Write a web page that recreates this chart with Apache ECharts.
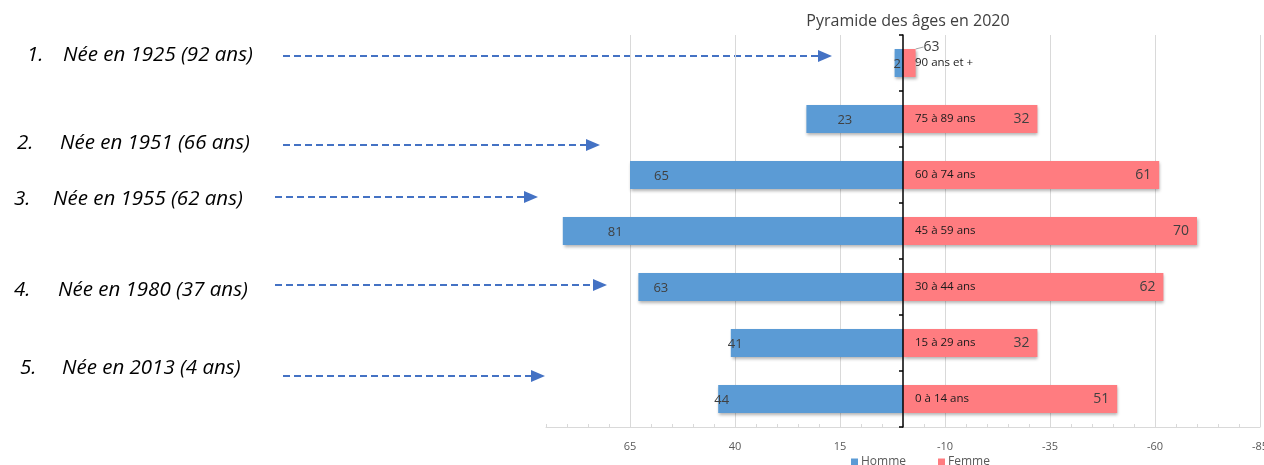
<!DOCTYPE html>
<html><head><meta charset="utf-8">
<script src="https://cdn.jsdelivr.net/npm/echarts@6/dist/echarts.min.js"></script>
<style>html,body{margin:0;padding:0;background:#fff}#c{width:1264px;height:465px}</style>
</head><body><div id="c"></div>
<script>
// ---- data ----
const categories = ['90 ans et +', '75 à 89 ans', '60 à 74 ans', '45 à 59 ans', '30 à 44 ans', '15 à 29 ans', '0 à 14 ans'];
const homme = [2, 23, 65, 81, 63, 41, 44];
const femme = [-3, -32, -61, -70, -62, -32, -51];
const femmeLabelText = ['63', '32', '61', '70', '62', '32', '51'];
const seriesNames = ['Homme', 'Femme'];
const titleText = 'Pyramide des âges en 2020';
const axisMin = -85, axisMax = 85, axisInterval = 25;
const noteNums = ['1.', '2.', '3.', '4.', '5.'];
const noteTexts = ['Née en 1925 (92 ans)', 'Née en 1951 (66 ans)', 'Née en 1955 (62 ans)', 'Née en 1980 (37 ans)', 'Née en 2013 (4 ans)'];

// ---- layout / style (not data) ----
const hommeLabelDx = [-1, 31, 24, 45, 15, -3, -4];
const noteLayout = [
  {nx: 27, tx: 63, y: 55, ax0: 283, ax1: 832, ay: 56},
  {nx: 17, tx: 60, y: 143, ax0: 283, ax1: 600, ay: 145},
  {nx: 14, tx: 53, y: 199, ax0: 275, ax1: 538, ay: 197},
  {nx: 14, tx: 58, y: 290, ax0: 275, ax1: 607, ay: 285},
  {nx: 20, tx: 62, y: 368, ax0: 283, ax1: 545, ay: 376}
];
const arrowColor = '#4472C4';
const FONT = 'Open Sans';
const GRID_LEFT = 546, GRID_RIGHT = 4;
const W = 1264;
// pixel of value 0 on the inverse x axis
const zeroX = GRID_LEFT + (W - GRID_LEFT - GRID_RIGHT) * (axisMax - 0) / (axisMax - axisMin);

const graphics = [];
noteLayout.forEach((p, i) => {
  graphics.push({type: 'text', style: {x: p.nx, y: p.y, verticalAlign: 'middle', text: noteNums[i], font: 'italic 20.5px "Open Sans"', fill: '#000'}});
  graphics.push({type: 'text', style: {x: p.tx, y: p.y, verticalAlign: 'middle', text: noteTexts[i], font: 'italic 20.5px "Open Sans"', fill: '#000'}});
  graphics.push({type: 'line', shape: {x1: p.ax0, y1: p.ay, x2: p.ax1 - 13, y2: p.ay}, style: {stroke: arrowColor, lineWidth: 2, lineDash: [7, 4]}});
  graphics.push({type: 'polygon', shape: {points: [[p.ax1 - 14, p.ay - 6], [p.ax1, p.ay], [p.ax1 - 14, p.ay + 6]]}, style: {fill: arrowColor}});
});

const chart = echarts.init(document.getElementById('c'), null, {renderer: 'canvas'});
const barShadow = {shadowBlur: 3, shadowOffsetX: 1, shadowOffsetY: 2, shadowColor: 'rgba(0,0,0,0.3)'};
chart.setOption({
  animation: false,
  textStyle: {fontFamily: FONT},
  title: {text: titleText, left: zeroX, top: 8, textAlign: 'center',
    textStyle: {fontSize: 16, fontWeight: 'normal', color: '#404040', fontFamily: FONT}},
  legend: {data: seriesNames, left: 846, top: 451, itemWidth: 7, itemHeight: 7, itemGap: 32, icon: 'rect',
    textStyle: {fontSize: 12, color: '#595959', padding: [0, 0, 0, -2]}},
  grid: {left: GRID_LEFT, right: GRID_RIGHT, top: 35, bottom: 38, containLabel: false, outerBoundsMode: 'none'},
  xAxis: {
    type: 'value', inverse: true, min: axisMin, max: axisMax, interval: axisInterval,
    axisLine: {show: true, lineStyle: {color: '#d9d9d9', width: 1}},
    axisTick: {show: true, inside: true, length: 3, lineStyle: {color: '#d9d9d9'}},
    minorTick: {show: true, splitNumber: 5, length: 3, lineStyle: {color: '#d9d9d9'}},
    splitLine: {show: true, showMaxLine: false, lineStyle: {color: '#d9d9d9', width: 1}},
    axisLabel: {showMaxLabel: false, color: '#595959', fontSize: 11, margin: 14}
  },
  yAxis: {
    type: 'category', data: categories, inverse: true,
    offset: -(zeroX - GRID_LEFT),
    axisLine: {show: true, onZero: false, lineStyle: {color: '#000', width: 1.5}},
    axisTick: {show: true, length: 4, lineStyle: {color: '#000', width: 1.5}},
    axisLabel: {inside: true, margin: 12, fontSize: 11.5, color: '#1a1a1a'},
    z: 5
  },
  graphic: graphics,
  series: [
    {
      name: seriesNames[0], type: 'bar', data: homme.map((v, i) => ({value: v, label: {offset: [hommeLabelDx[i], 1]}})),
      barWidth: 28, barGap: '-100%',
      itemStyle: Object.assign({color: '#5B9BD5'}, barShadow),
      label: {show: true, position: 'insideLeft', distance: 0, color: '#404040', fontSize: 13}
    },
    {
      name: seriesNames[1], type: 'bar', data: femme.map((v) => ({value: v})),
      barWidth: 28,
      itemStyle: Object.assign({color: '#FF7C80'}, barShadow),
      label: {show: true, position: 'insideRight', distance: 8, color: '#404040', fontSize: 14,
        formatter: p => femmeLabelText[p.dataIndex]},
      labelLayout: p => p.dataIndex === 0 ? {dx: 16, dy: -16, align: 'left'} : {},
      labelLine: {show: true, lineStyle: {color: '#a6a6a6', width: 1}}
    }
  ]
});
</script></body></html>
